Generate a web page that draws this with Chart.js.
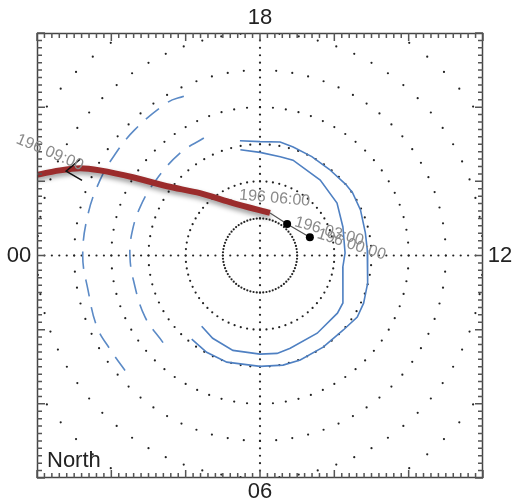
<!DOCTYPE html>
<html>
<head>
<meta charset="utf-8">
<script src="https://cdn.jsdelivr.net/npm/chart.js@4.4.0/dist/chart.umd.min.js"></script>
<style>
  html, body { margin: 0; padding: 0; background: #fff; }
  #wrap { width: 514px; height: 501px; }
</style>
</head>
<body>
<div id="wrap"><canvas id="polarChart" width="514" height="501"></canvas></div>
<script>
// Breitenkreise (Grad) und MLT-Beschriftungen (oben, rechts, unten, links)
let latCircles = [80, 70, 60, 50, 40, 30, 20];
let mltLabels = ['18', '12', '06', '00'];
let panelTitle = 'North';

// Oval: polwärtige Grenze (innere Linie)
let innerMlt = [18.7, 18.0, 17.23, 16.73, 15.43, 14.29, 13.27, 12.11, 11.47, 10.38, 10.01, 9.55, 8.42, 7.2, 6.66, 6.0, 4.94, 4.02, 3.37];
let innerLat = [61.0, 62.2, 62.8, 62.8, 64.0, 64.9, 66.4, 67.1, 67.5, 65.5, 64.3, 64.0, 64.0, 63.7, 63.2, 63.4, 63.4, 64.3, 65.3];

// Oval: äquatorwärtige Grenze (äußere Linie)
let outerMlt = [18.66, 18.0, 17.33, 16.87, 16.16, 15.42, 14.65, 14.28, 13.63, 12.81, 12.2, 11.04, 10.35, 9.84, 9.21, 8.3, 7.4, 6.79, 6.0, 4.85, 4.08, 3.39];
let outerLat = [58.6, 59.3, 58.9, 59.4, 59.9, 60.2, 60.0, 59.9, 60.3, 61.0, 61.1, 60.1, 59.3, 59.0, 59.9, 60.0, 59.8, 59.8, 60.1, 59.9, 60.2, 60.9];

// Gestrichelte Grenzen auf der Nachtseite
let dashOuterMlt = [19.7, 20.06, 21.0, 21.75, 22.31, 23.07, 0.0, 0.76, 1.58, 2.15, 2.81];
let dashOuterLat = [42.4, 41.8, 42.2, 42.4, 42.4, 42.4, 42.3, 42.8, 42.1, 42.4, 42.1];
let dashInnerMlt = [19.7, 20.53, 21.63, 22.53, 23.33, 0.0, 0.74, 1.87, 2.8];
let dashInnerLat = [54.9, 55.0, 55.4, 55.2, 55.0, 55.0, 55.3, 54.9, 54.9];

// Fußpunktspur des Satelliten (Tag 196)
let trackMlt = [22.73, 22.46, 22.27, 22.13, 21.89, 21.55, 20.92, 19.81, 17.12];
let trackLat = [24.5, 31.5, 36.2, 41.2, 49.8, 58.8, 66.7, 74.1, 78.2];
let linkMlt = [17.12, 15.29, 13.35];
let linkLat = [78.2, 78.8, 75.7];
let tickMlt = [22.12, 22.43, 22.47];
let tickLat = [35.1, 33.1, 38.0];
let markMlt = [19.9];
let markLat = [73.6];

// Zeitmarken an der Spur
let timeTexts = ['196 09:00', '196 06:00', '196 03:00', '196 00:00'];
let timeMlt = [22.17, 19.09, 15.22, 13.75];
let timeLat = [17.3, 70.8, 75.0, 72.0];
let timeAngle = [23, 5, 16, 18];

// Umrechnung MLT/Breite -> kartesische Koordinaten (Kolatitude in Grad)
function toXY(mlt, lat) {
  let theta = mlt / 24 * 2 * Math.PI;
  let colat = 90 - lat;
  return { x: -colat * Math.cos(theta), y: -colat * Math.sin(theta) };
}

function toPoints(mltList, latList) {
  return mltList.map((m, i) => toXY(m, latList[i]));
}

// Punktraster: Breitenkreise alle 5 Grad, Meridiane 00-12 und 06-18
let gridDots = [];
latCircles.forEach(lat => {
  for (let a = 0; a < 360; a += 5) {
    let p = toXY(a / 15, lat);
    if (Math.abs(p.x) <= 60.2 && Math.abs(p.y) <= 60.2) gridDots.push(p);
  }
});
for (let c = 0; c <= 60; c += 2) {
  [0, 6, 12, 18].forEach(h => gridDots.push(toXY(h, 90 - c)));
}

// Schatten für die rote Spur
let shadowPlugin = {
  id: 'shadow',
  beforeDatasetDraw(chart, args) {
    if (args.index !== 0) return;
    let ctx = chart.ctx;
    ctx.save();
    ctx.shadowColor = 'rgba(0,0,0,0.4)';
    ctx.shadowBlur = 5;
    ctx.shadowOffsetY = 3;
  },
  afterDatasetDraw(chart, args) {
    if (args.index === 0) chart.ctx.restore();
  }
};

// Rahmen, Ticks und Beschriftungen
let framePlugin = {
  id: 'frame',
  afterDraw(chart) {
    let ctx = chart.ctx, ca = chart.chartArea;
    let xs = chart.scales.x, ys = chart.scales.y;
    ctx.save();
    ctx.setLineDash([]);
    ctx.shadowColor = 'transparent';
    ctx.strokeStyle = '#444';
    ctx.lineWidth = 1.5;
    ctx.strokeRect(ca.left + 0.5, ca.top + 0.5, ca.right - ca.left - 1, ca.bottom - ca.top - 1);

    // Ticks nach innen, große alle 20 Grad
    ctx.beginPath();
    for (let v = -60; v <= 60; v += 2) {
      let len = v % 20 === 0 ? 8 : 5;
      let px = xs.getPixelForValue(v), py = ys.getPixelForValue(v);
      ctx.moveTo(px, ca.top); ctx.lineTo(px, ca.top + len);
      ctx.moveTo(px, ca.bottom); ctx.lineTo(px, ca.bottom - len);
      ctx.moveTo(ca.left, py); ctx.lineTo(ca.left + len, py);
      ctx.moveTo(ca.right, py); ctx.lineTo(ca.right - len, py);
    }
    ctx.strokeStyle = '#555';
    ctx.lineWidth = 1.5;
    ctx.stroke();

    let cx = xs.getPixelForValue(0), cy = ys.getPixelForValue(0);
    ctx.fillStyle = '#222';
    ctx.font = '22px "Liberation Sans", Arial, sans-serif';
    ctx.textAlign = 'center';
    ctx.textBaseline = 'middle';
    ctx.fillText(mltLabels[0], cx, 18);
    ctx.fillText(mltLabels[1], 500, cy);
    ctx.fillText(mltLabels[2], cx, 492);
    ctx.fillText(mltLabels[3], 19, cy);
    ctx.textAlign = 'left';
    ctx.textBaseline = 'alphabetic';
    ctx.fillText(panelTitle, 47, 467);

    // Zeitmarken
    ctx.fillStyle = '#8a8a8a';
    ctx.font = '16px "Liberation Sans", Arial, sans-serif';
    ctx.textBaseline = 'top';
    timeTexts.forEach((txt, i) => {
      let p = toXY(timeMlt[i], timeLat[i]);
      ctx.save();
      ctx.translate(xs.getPixelForValue(p.x), ys.getPixelForValue(p.y));
      ctx.rotate(timeAngle[i] * Math.PI / 180);
      ctx.fillText(txt, 0, 0);
      ctx.restore();
    });
    ctx.restore();
  }
};

let blue = '#4f80c2';
let config = {
  type: 'scatter',
  data: {
    datasets: [
      { data: toPoints(trackMlt, trackLat), showLine: true, borderColor: '#9b2c2c', borderWidth: 6, tension: 0.3, pointRadius: 0, order: 1 },
      { data: toPoints(linkMlt, linkLat), showLine: true, borderColor: '#555', borderWidth: 1.2, pointRadius: [0, 4, 4], pointBackgroundColor: '#000', pointBorderWidth: 0, order: 0 },
      { data: toPoints(tickMlt, tickLat), showLine: true, borderColor: '#111', borderWidth: 1.5, pointRadius: 0, order: 0 },
      { data: toPoints(markMlt, markLat), pointRadius: 2.5, pointBackgroundColor: '#111', pointBorderWidth: 0, order: 2 },
      { data: toPoints(innerMlt, innerLat), showLine: true, borderColor: blue, borderWidth: 1.6, pointRadius: 0, order: 5 },
      { data: toPoints(outerMlt, outerLat), showLine: true, borderColor: blue, borderWidth: 1.6, pointRadius: 0, order: 5 },
      { data: toPoints(dashOuterMlt, dashOuterLat), showLine: true, borderColor: '#5b8ac6', borderWidth: 1.6, borderDash: [17, 11], tension: 0.4, pointRadius: 0, order: 6 },
      { data: toPoints(dashInnerMlt, dashInnerLat), showLine: true, borderColor: '#5b8ac6', borderWidth: 1.6, borderDash: [17, 11], tension: 0.4, pointRadius: 0, order: 6 },
      { data: gridDots, pointRadius: 1.1, pointBackgroundColor: '#222', pointBorderWidth: 0, order: 20 }
    ]
  },
  options: {
    responsive: false,
    animation: false,
    layout: { padding: { left: 37, top: 33, right: 31, bottom: 23 } },
    scales: {
      x: { type: 'linear', min: -60, max: 60, display: false },
      y: { type: 'linear', min: -60, max: 60, display: false }
    },
    plugins: { legend: { display: false }, tooltip: { enabled: false } }
  },
  plugins: [shadowPlugin, framePlugin]
};

let ctx = document.getElementById('polarChart').getContext('2d');
let polarChart = new Chart(ctx, config);
</script>
</body>
</html>
